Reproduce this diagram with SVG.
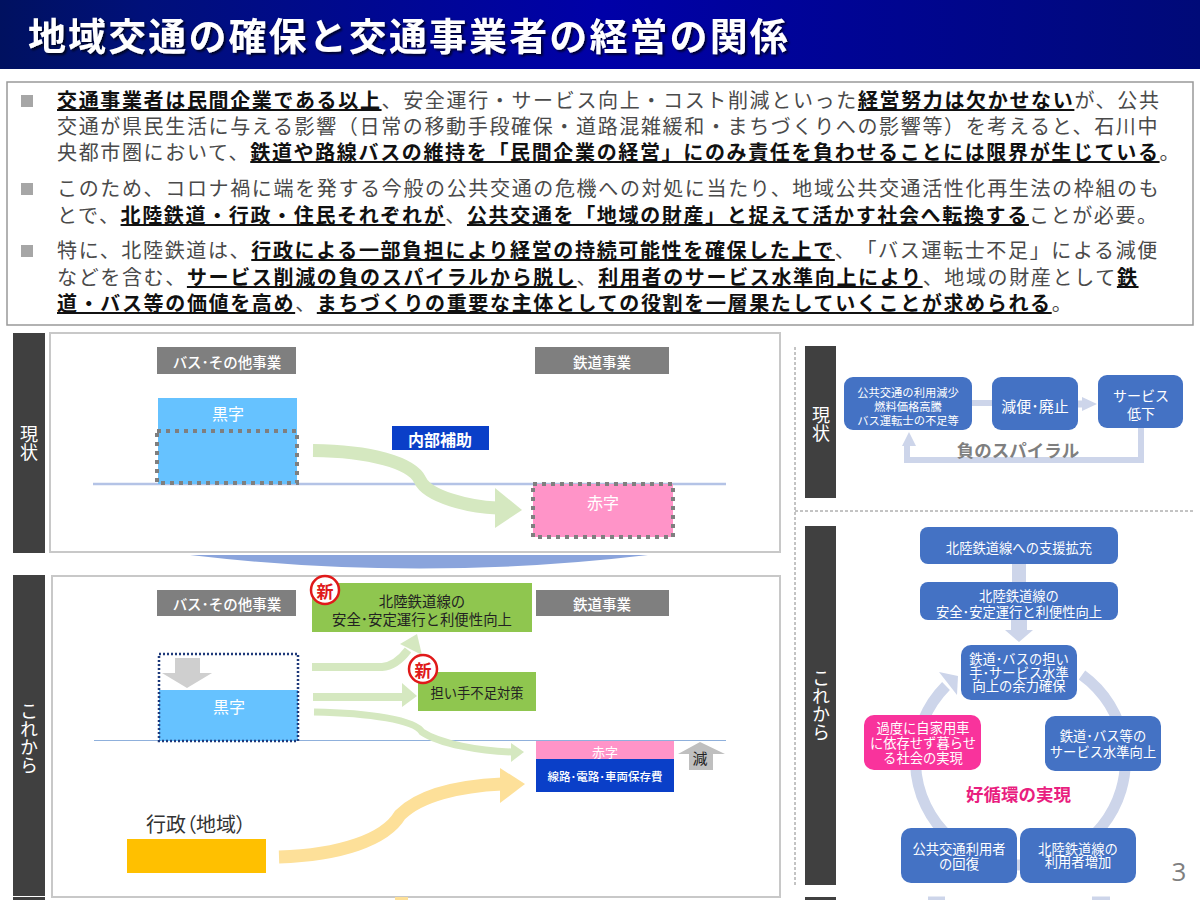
<svg xmlns="http://www.w3.org/2000/svg" width="1200" height="900" viewBox="0 0 1200 900">
<style>
text{font-family:"Noto Sans CJK JP","Noto Sans",sans-serif;text-anchor:middle;dominant-baseline:central;text-spacing-trim:space-all}
.title{font-size:38px;font-weight:700;fill:#fff;text-anchor:start;letter-spacing:2.100px;filter:url(#sh)}
.body{font-size:20px;fill:#4a4a4a;text-anchor:start;letter-spacing:1.650px;dominant-baseline:auto}
.b{font-weight:700;fill:#111;text-decoration:underline}
.bar{fill:#404040}
.vt{fill:#fff;font-size:18px;writing-mode:vertical-rl}
.panel{fill:#fff;stroke:#c8c8c8;stroke-width:2}
.lab{fill:#7f7f7f}
.lt{fill:#fff;font-size:14.5px;font-weight:500}
.w16{fill:#fff;font-size:16px}
.gbox{fill:#8fc64f}
.dk{fill:#222;font-size:14.4px}
.stamp{fill:#fff;stroke:#e01a1a;stroke-width:2.5}
.st{fill:#e01a1a;font-size:17px;font-weight:700}
.blue{fill:#4472c4}
.bt{fill:#fff;font-size:13.3px}
.gl{fill:none;stroke:#d5e8c0}
.gh{fill:#d5e8c0}
.ol{fill:none;stroke:#fde099}
.oh{fill:#fde099}
.ll{fill:none;stroke:#cdd5ea}
.lh{fill:#cdd5ea}
.dash{fill:none;stroke:#888;stroke-width:1;stroke-dasharray:3 2}
.dot{fill:none;stroke:#7f7f7f;stroke-width:4;stroke-dasharray:4 5}
</style>
<defs>
<linearGradient id="hd" x1="0" x2="1" y1="0" y2="0"><stop offset="0" stop-color="#001160"/><stop offset=".12" stop-color="#00107a"/><stop offset=".5" stop-color="#0000a8"/><stop offset="1" stop-color="#000a78"/></linearGradient>
<filter id="sh" x="-5%" y="-20%" width="110%" height="140%"><feDropShadow dx="2" dy="2" stdDeviation="1.2" flood-color="#000" flood-opacity=".7"/></filter>
</defs>
<rect width="1200" height="900" fill="#fff"/>
<g id="header"><rect width="1200" height="69" fill="url(#hd)"/><text class="title" x="28" y="33">地域交通の確保と交通事業者の経営の関係</text></g>
<g id="summary">
<rect x="7" y="82" width="1186" height="243" fill="#fff" stroke="#999" stroke-width="1.5"/>
<rect x="21" y="95" width="12" height="12" fill="#a6a6a6"/><rect x="21" y="183" width="12" height="12" fill="#a6a6a6"/><rect x="21" y="245" width="12" height="12" fill="#a6a6a6"/>
<text class="body" x="57" y="108"><tspan class="b">交通事業者は民間企業である以上</tspan>、安全運行・サービス向上・コスト削減といった<tspan class="b">経営努力は欠かせない</tspan>が、公共</text>
<text class="body" x="57" y="134">交通が県民生活に与える影響（日常の移動手段確保・道路混雑緩和・まちづくりへの影響等）を考えると、石川中</text>
<text class="body" x="57" y="160">央都市圏において、<tspan class="b">鉄道や路線バスの維持を「民間企業の経営」にのみ責任を負わせることには限界が生じている</tspan>。</text>
<text class="body" x="57" y="196">このため、コロナ禍に端を発する今般の公共交通の危機への対処に当たり、地域公共交通活性化再生法の枠組のも</text>
<text class="body" x="57" y="223">とで、<tspan class="b">北陸鉄道・行政・住民それぞれが</tspan>、<tspan class="b">公共交通を「地域の財産」と捉えて活かす社会へ転換する</tspan>ことが必要。</text>
<text class="body" x="57" y="258">特に、北陸鉄道は、<tspan class="b">行政による一部負担により経営の持続可能性を確保した上で</tspan>、「バス運転士不足」による減便</text>
<text class="body" x="57" y="285">などを含む、<tspan class="b">サービス削減の負のスパイラルから脱し</tspan>、<tspan class="b">利用者のサービス水準向上により</tspan>、地域の財産として<tspan class="b">鉄</tspan></text>
<text class="body" x="57" y="311"><tspan class="b">道・バス等の価値を高め</tspan>、<tspan class="b">まちづくりの重要な主体としての役割を一層果たしていくことが求められる</tspan>。</text>
</g>
<g id="panel-current">
<rect class="bar" x="13" y="333" width="32" height="220"/><text class="vt" x="29" y="443">現状</text>
<rect class="panel" x="50" y="333" width="730" height="219"/>
<rect class="lab" x="157" y="347" width="139" height="27"/><text class="lt" x="227" y="361">バス･その他事業</text>
<rect class="lab" x="535" y="347" width="134" height="27"/><text class="lt" x="602" y="361">鉄道事業</text>
<line x1="93" y1="484" x2="726" y2="484" stroke="#b4c3e6" stroke-width="2.5"/>
</g>
<g id="wedge"><path d="M190 555H648Q420 582 190 555Z" fill="#8aa4dc"/></g>
<g id="panel-future">
<rect class="bar" x="13" y="575" width="32" height="321"/><text class="vt" x="29" y="738">これから</text>
<rect class="panel" x="52" y="576" width="728" height="321"/>
<rect class="lab" x="157" y="590" width="139" height="26"/><text class="lt" x="227" y="603">バス･その他事業</text>
<rect class="lab" x="536" y="590" width="133" height="26"/><text class="lt" x="602" y="603">鉄道事業</text>
<line x1="94" y1="740.5" x2="726" y2="740.5" stroke="#8fb0dc" stroke-width="1"/>
</g>
<g id="connectors">
<path class="gl" stroke-width="13" d="M313 450.500C370 451 412 463 420 480C428 497 470 507 497 508"/><path class="gh" d="M495 488L522 510L495 528Z"/>
<path class="gl" stroke-width="8" d="M312 667H382Q396 666 408 650"/><path class="gh" d="M400 644L417 634L422 655Z"/>
<path class="gl" stroke-width="8" d="M313 697H403"/><path class="gh" d="M402 683L417 696L402 707Z"/>
<path class="gl" stroke-width="7" d="M314 712C370 713 415 720 422 732C440 744 480 751 512 752"/><path class="gh" d="M511 743L524 752L511 762Z"/>
<path class="ol" stroke-width="13" d="M279 857C340 855 385 840 400 815C420 795 460 786 502 784"/><path class="oh" d="M500 768L525 784L500 803Z"/>
<path class="ll" stroke-width="6" d="M972 403H992"/><path class="ll" stroke-width="7" d="M1078 404H1084"/><path class="lh" d="M1082 397L1097 404L1082 411Z"/>
<path class="ll" stroke-width="6" d="M1141 428V460H907V445"/><path class="lh" d="M909 432L916 446H902Z"/>
<path class="ll" stroke-width="14" d="M1019 564V582"/><path class="ll" stroke-width="16" d="M1019 620V632"/><path class="lh" d="M1005 630H1033L1019 642Z"/>
<path class="ll" stroke-width="11" d="M1082 675A105 105 0 1 1 946 686"/><path class="lh" d="M958 676L939 672L957 695Z"/>
<path class="ll" stroke-width="6" d="M928 899.500H945M1092 899.500H1110"/>
<rect x="395" y="897" width="13" height="3" fill="#fde099"/>
</g>
<g id="surplus-now"><rect x="158" y="398" width="139" height="86" fill="#66c2ff"/><text class="w16" x="228" y="413">黒字</text><rect class="dot" x="157" y="431" width="140" height="52"/></g>
<g id="subsidy"><rect x="392" y="426" width="97" height="24" fill="#0a3fc8"/><text fill="#fff" font-size="16" font-weight="700" x="440" y="438.500">内部補助</text></g>
<g id="deficit-now"><rect x="533" y="484" width="140" height="53" fill="#ff94c8"/><rect class="dot" x="533" y="484" width="140" height="53"/><text class="w16" x="603" y="502">赤字</text></g>
<g id="surplus-future"><rect x="159" y="690" width="139" height="51" fill="#66c2ff"/><rect x="159" y="654" width="139" height="87" fill="none" stroke="#1f3a7a" stroke-width="2.5" stroke-dasharray="2 2"/><path d="M175 658H200V673H212L187 688L162 673H175Z" fill="#cfcfcf"/><text class="w16" x="229" y="706">黒字</text></g>
<g id="new-line"><rect class="gbox" x="312" y="583" width="220" height="49"/><text class="dk" x="422" y="600">北陸鉄道線の</text><text class="dk" x="422" y="618">安全･安定運行と利便性向上</text><circle class="stamp" cx="325" cy="590" r="14"/><text class="st" x="325" y="590">新</text></g>
<g id="new-staff"><rect class="gbox" x="418" y="672" width="118" height="39"/><text class="dk" style="font-size:13.300px" x="477" y="692">担い手不足対策</text><circle class="stamp" cx="423" cy="669" r="14"/><text class="st" x="423" y="669">新</text></g>
<g id="deficit-future"><rect x="536" y="741" width="138" height="18" fill="#ff94c8"/><rect x="536" y="759" width="138" height="33" fill="#0a3fc8"/><text fill="#fff" font-size="13" x="605" y="751">赤字</text><text fill="#fff" font-size="11.500" font-weight="500" x="605" y="776">線路･電路･車両保存費</text></g>
<g id="reduce"><path d="M700 742L725 754H713V770H689V754H678Z" fill="#bfbfbf"/><text fill="#222" font-size="15" x="700" y="757">減</text></g>
<g id="gov"><text fill="#333" font-size="20" style="font-feature-settings:'palt'" x="196" y="823">行政（地域）</text><rect x="127" y="839" width="139" height="34" fill="#ffc000"/></g>
<g id="dividers"><path class="dash" d="M795 347V885M795 511H1195"/></g>
<g id="spiral-now">
<rect class="bar" x="805" y="346" width="31" height="152"/><text class="vt" x="821" y="424">現状</text>
<g id="r1"><rect class="blue" x="844" y="377" width="128" height="53" rx="9"/><text class="bt" style="font-size:11.300px" x="908" y="392">公共交通の利用減少</text><text class="bt" style="font-size:11.300px" x="908" y="406">燃料価格高騰</text><text class="bt" style="font-size:11.300px" x="908" y="420">バス運転士の不足等</text></g>
<g id="r2"><rect class="blue" x="992" y="377" width="86" height="53" rx="9"/><text class="bt" style="font-size:15px" x="1035" y="405">減便･廃止</text></g>
<g id="r3"><rect class="blue" x="1098" y="375" width="85" height="53" rx="9"/><text class="bt" style="font-size:14px" x="1141" y="395">サービス</text><text class="bt" style="font-size:14px" x="1141" y="413">低下</text></g>
<text fill="#7f7f7f" font-size="17.500" font-weight="700" x="1018" y="449">負のスパイラル</text>
</g>
<g id="cycle-future">
<rect class="bar" x="805" y="526" width="31" height="359"/><text class="vt" x="821" y="705">これから</text>
<rect class="bar" x="805" y="897" width="31" height="3"/><rect class="bar" x="13" y="897" width="32" height="3"/>
<g id="c1"><rect class="blue" x="920" y="527" width="198" height="37" rx="8"/><text class="bt" x="1019" y="547">北陸鉄道線への支援拡充</text></g>
<g id="c2"><rect class="blue" x="920" y="582" width="198" height="38" rx="8"/><text class="bt" x="1019" y="595">北陸鉄道線の</text><text class="bt" x="1019" y="611">安全･安定運行と利便性向上</text></g>
<g id="c3"><rect class="blue" x="961" y="645" width="116" height="55" rx="10"/><text class="bt" x="1019" y="658">鉄道･バスの担い</text><text class="bt" x="1019" y="672">手･サービス水準</text><text class="bt" x="1019" y="685">向上の余力確保</text></g>
<g id="c4"><rect class="blue" x="1045" y="716" width="116" height="55" rx="10"/><text class="bt" x="1103" y="735">鉄道･バス等の</text><text class="bt" x="1103" y="751">サービス水準向上</text></g>
<g id="c5"><rect x="864" y="715" width="117" height="55" rx="10" fill="#f9339c"/><text class="bt" x="923" y="727">過度に自家用車</text><text class="bt" x="923" y="742">に依存せず暮らせ</text><text class="bt" x="923" y="757">る社会の実現</text></g>
<g id="c6"><rect class="blue" x="901" y="828" width="116" height="55" rx="10"/><text class="bt" x="959" y="848">公共交通利用者</text><text class="bt" x="959" y="863">の回復</text></g>
<g id="c7"><rect class="blue" x="1020" y="828" width="116" height="55" rx="10"/><text class="bt" x="1078" y="848">北陸鉄道線の</text><text class="bt" x="1078" y="861">利用者増加</text></g>
<text fill="#e91e7f" font-size="17.500" font-weight="700" x="1018.500" y="793">好循環の実現</text>
</g>
<g id="page"><text fill="#7f7f7f" font-size="26" style="font-family:'Open Sans',sans-serif" x="1179" y="871">3</text></g>
</svg>
